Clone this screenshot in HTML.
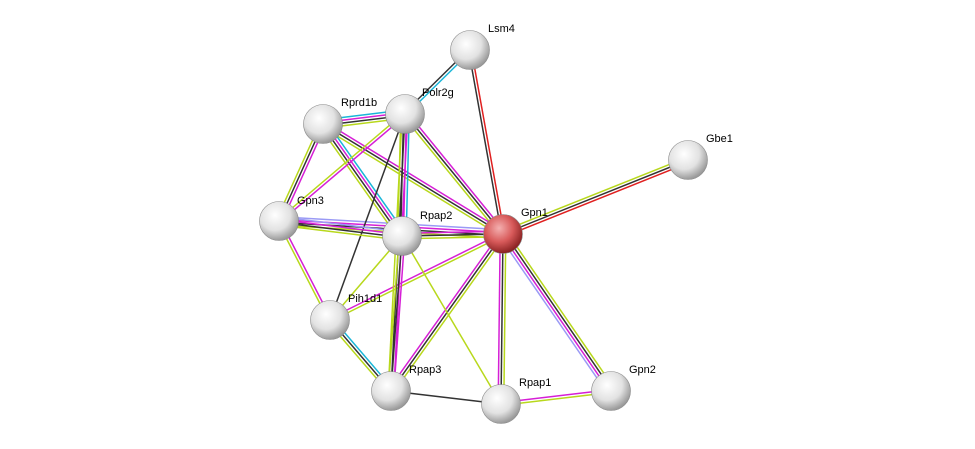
<!DOCTYPE html>
<html><head><meta charset="utf-8">
<style>
html,body{margin:0;padding:0;background:#fff;}
svg{display:block;}
text{font-family:"Liberation Sans",sans-serif;font-size:11px;fill:#000;}
</style></head><body>
<svg id="s" width="975" height="449" viewBox="0 0 975 449" xmlns="http://www.w3.org/2000/svg">
<defs>
<radialGradient id="g" cx="40%" cy="35%" r="65%">
<stop offset="0" stop-color="#ffffff"/><stop offset="0.6" stop-color="#e2e2e2"/><stop offset="1" stop-color="#9a9a9a"/>
</radialGradient>
<radialGradient id="r" cx="40%" cy="35%" r="65%">
<stop offset="0" stop-color="#f4b0b0"/><stop offset="0.55" stop-color="#d85a5a"/><stop offset="1" stop-color="#8a2222"/>
</radialGradient>
</defs>
<g id="edges"></g>
<g id="nodes"></g>
<text x="488" y="32">Lsm4</text>
<text x="706" y="142">Gbe1</text>
<text x="422" y="96">Polr2g</text>
<text x="341" y="106">Rprd1b</text>
<text x="297" y="204">Gpn3</text>
<text x="420" y="219">Rpap2</text>
<text x="521" y="216">Gpn1</text>
<text x="348" y="302">Pih1d1</text>
<text x="409" y="373">Rpap3</text>
<text x="519" y="386">Rpap1</text>
<text x="629" y="373">Gpn2</text>
</svg>
<script>
var N={Lsm4:[470,50],Gbe1:[688,160],Polr2g:[405,114],Rprd1b:[323,124],Gpn3:[279,221],Rpap2:[402,236],Gpn1:[503,234],Pih1d1:[330,320],Rpap3:[391,391],Rpap1:[501,404],Gpn2:[611,391]};
var C={m:"#d61fd6",y:"#b8d81c",k:"#333",b:"#19b6d8",l:"#9a9af5",r:"#e02020"};
var E=[["Lsm4","Gpn1","rk"],["Lsm4","Polr2g","bk"],["Gbe1","Gpn1","rky"],["Polr2g","Gpn1","mky"],["Rprd1b","Gpn1","mky"],["Gpn3","Gpn1","lmky"],["Rpap2","Gpn1","mky"],["Pih1d1","Gpn1","my"],["Rpap3","Gpn1","mky"],["Rpap1","Gpn1","mky"],["Gpn2","Gpn1","lmky"],["Rprd1b","Polr2g","bmky"],["Rprd1b","Gpn3","mky"],["Rprd1b","Rpap2","bmky"],["Polr2g","Gpn3","my"],["Polr2g","Rpap2","bmky"],["Polr2g","Pih1d1","k"],["Polr2g","Rpap3","mky"],["Gpn3","Rpap2","lmky"],["Gpn3","Pih1d1","my"],["Rpap2","Pih1d1","y"],["Rpap2","Rpap3","mky"],["Rpap2","Rpap1","y"],["Pih1d1","Rpap3","bky"],["Rpap3","Rpap1","k"],["Rpap1","Gpn2","my"]];
var h="";
E.forEach(function(e){var a=N[e[0]],b=N[e[1]],dx=b[0]-a[0],dy=b[1]-a[1],L=Math.hypot(dx,dy),px=-dy/L,py=dx/L,n=e[2].length;
for(var i=0;i<n;i++){var o=(i-(n-1)/2)*2.8;h+='<line x1="'+(a[0]+px*o)+'" y1="'+(a[1]+py*o)+'" x2="'+(b[0]+px*o)+'" y2="'+(b[1]+py*o)+'" stroke="'+C[e[2][i]]+'" stroke-width="1.5"/>';}});
document.getElementById("edges").innerHTML=h;
var g="";for(var k in N){var p=N[k];g+='<circle cx="'+p[0]+'" cy="'+p[1]+'" r="19.5" fill="url(#'+(k=="Gpn1"?"r":"g")+')" stroke="#888" stroke-width="0.6"/>';}
document.getElementById("nodes").innerHTML=g;
</script>
</body></html>
